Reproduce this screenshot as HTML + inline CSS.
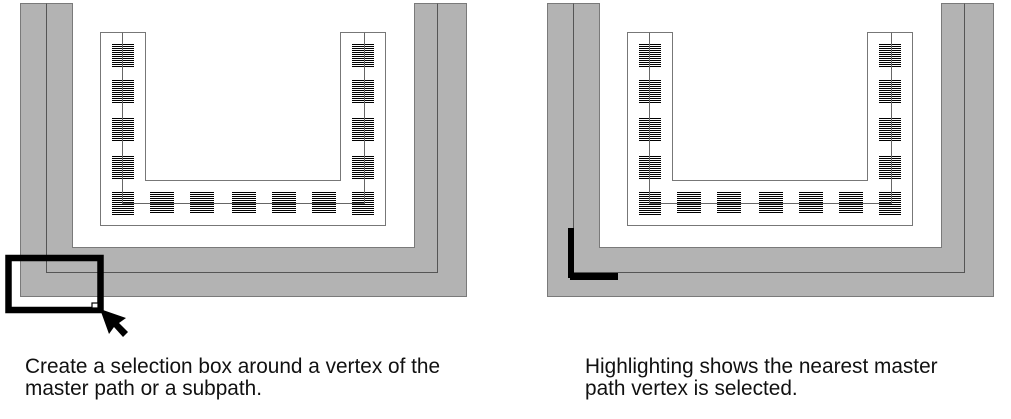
<!DOCTYPE html>
<html><head><meta charset="utf-8"><style>
html,body{margin:0;padding:0;background:#fff;}
svg{display:block;}
</style></head><body>
<svg width="1011" height="419" viewBox="0 0 1011 419" xmlns="http://www.w3.org/2000/svg">
<defs>
<pattern id="st" width="4" height="2" patternUnits="userSpaceOnUse">
<rect x="0" y="0" width="4" height="1" fill="#000"/>
<rect x="0" y="1" width="4" height="1" fill="#fff"/>
</pattern>
<g id="fig">
<polygon points="20.5,3.5 72.5,3.5 72.5,247.5 414.5,247.5 414.5,3.5 466.5,3.5 466.5,296.5 20.5,296.5" fill="#b3b3b3" stroke="#7a7a7a" stroke-width="1"/>
<path d="M46.5 3.5 V272.5 H437.5 V3.5" fill="none" stroke="#555" stroke-width="1"/>
<polygon points="100.5,32.5 145.5,32.5 145.5,180.5 340.5,180.5 340.5,32.5 385.5,32.5 385.5,225.5 100.5,225.5" fill="#fff" stroke="#777" stroke-width="1"/>
<g fill="url(#st)" stroke="#000" stroke-width="0">
<rect x="112" y="43" width="22" height="24"/>
<rect x="112" y="80" width="22" height="24"/>
<rect x="112" y="118" width="22" height="24"/>
<rect x="112" y="155" width="22" height="24"/>
<rect x="352" y="43" width="22" height="24"/>
<rect x="352" y="80" width="22" height="24"/>
<rect x="352" y="118" width="22" height="24"/>
<rect x="352" y="155" width="22" height="24"/>
<rect x="112" y="191" width="22" height="24"/>
<rect x="150" y="191" width="24" height="23"/>
<rect x="190" y="191" width="24" height="23"/>
<rect x="232" y="191" width="24" height="23"/>
<rect x="272" y="191" width="24" height="23"/>
<rect x="312" y="191" width="24" height="23"/>
<rect x="352" y="191" width="22" height="24"/>
</g>
<path d="M122.5 32.5 V203.5 H364.5 V32.5" fill="none" stroke="#666" stroke-width="1"/>
</g>
</defs>

<use href="#fig"/>
<use href="#fig" transform="translate(527,0)"/>

<!-- selection box -->
<rect x="8.5" y="258" width="92" height="52" fill="none" stroke="#000" stroke-width="6.5"/>
<rect x="92" y="303" width="6" height="5" fill="#fff" stroke="#000" stroke-width="1.2"/>
<polygon points="100,309 109,334 114,327 123,337 128,332 119,323 126,318" fill="#000"/>

<!-- highlight L -->
<rect x="568" y="228" width="6" height="50" fill="#000"/>
<rect x="570" y="273" width="48" height="7" fill="#000"/>

<g font-family="'Liberation Sans', Arial, sans-serif" font-size="20.8" fill="#111">
<text x="25" y="373">Create a selection box around a vertex of the</text>
<text x="25" y="395">master path or a subpath.</text>
<text x="585" y="373">Highlighting shows the nearest master</text>
<text x="585" y="395">path vertex is selected.</text>
</g>
</svg>
</body></html>
